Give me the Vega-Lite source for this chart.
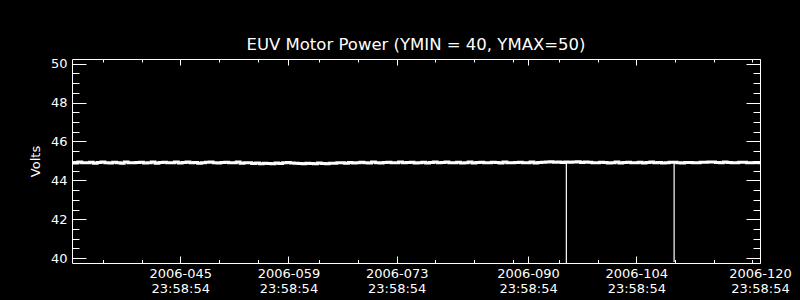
{
  "$schema": "https://vega.github.io/schema/vega-lite/v6.json",
  "width": 688,
  "height": 204,
  "autosize": {"type": "none"},
  "padding": {"left": 72, "top": 59, "right": 40, "bottom": 37},
  "background": "black",
  "title": {"text": "EUV Motor Power (YMIN = 40, YMAX=50)", "color": "white", "font": "DejaVu Sans", "fontSize": 16.5, "fontWeight": "normal", "anchor": "middle", "offset": 4},
  "config": {
    "view": {"stroke": "white", "strokeWidth": 1},
    "axis": {"grid": false, "domain": false, "tickColor": "white", "tickWidth": 1, "labelColor": "white", "labelFont": "DejaVu Sans", "labelFontSize": 13, "titleColor": "white", "titleFont": "DejaVu Sans", "titleFontSize": 13, "titleFontWeight": "normal", "labelFlush": false, "labelOverlap": false, "labelBound": false}
  },
  "data": {"values": [
    {"t":"2006-01-31T23:59:00","v":44.91,"k":"s"},
    {"t":"2006-02-01T00:00","v":44.92,"k":"s"},{"t":"2006-02-01T12:00","v":44.89,"k":"s"},
    {"t":"2006-02-02T00:00","v":44.94,"k":"s"},{"t":"2006-02-02T12:00","v":44.90,"k":"s"},
    {"t":"2006-02-03T00:00","v":44.91,"k":"s"},{"t":"2006-02-03T12:00","v":44.93,"k":"s"},
    {"t":"2006-02-04T00:00","v":44.88,"k":"s"},{"t":"2006-02-04T12:00","v":44.92,"k":"s"},
    {"t":"2006-02-05T00:00","v":44.95,"k":"s"},{"t":"2006-02-05T12:00","v":44.90,"k":"s"},
    {"t":"2006-02-06T00:00","v":44.89,"k":"s"},{"t":"2006-02-06T12:00","v":44.93,"k":"s"},
    {"t":"2006-02-07T00:00","v":44.91,"k":"s"},{"t":"2006-02-07T12:00","v":44.88,"k":"s"},
    {"t":"2006-02-08T00:00","v":44.94,"k":"s"},{"t":"2006-02-08T12:00","v":44.91,"k":"s"},
    {"t":"2006-02-09T00:00","v":44.90,"k":"s"},{"t":"2006-02-09T12:00","v":44.92,"k":"s"},
    {"t":"2006-02-10T00:00","v":44.93,"k":"s"},{"t":"2006-02-10T12:00","v":44.89,"k":"s"},
    {"t":"2006-02-11T00:00","v":44.91,"k":"s"},{"t":"2006-02-11T12:00","v":44.94,"k":"s"},
    {"t":"2006-02-12T00:00","v":44.88,"k":"s"},{"t":"2006-02-12T12:00","v":44.92,"k":"s"},
    {"t":"2006-02-13T00:00","v":44.93,"k":"s"},{"t":"2006-02-13T12:00","v":44.90,"k":"s"},
    {"t":"2006-02-14T00:00","v":44.91,"k":"s"},{"t":"2006-02-14T12:00","v":44.95,"k":"s"},
    {"t":"2006-02-15T00:00","v":44.89,"k":"s"},{"t":"2006-02-15T12:00","v":44.92,"k":"s"},
    {"t":"2006-02-16T00:00","v":44.94,"k":"s"},{"t":"2006-02-16T12:00","v":44.90,"k":"s"},
    {"t":"2006-02-17T00:00","v":44.92,"k":"s"},{"t":"2006-02-17T12:00","v":44.88,"k":"s"},
    {"t":"2006-02-18T00:00","v":44.90,"k":"s"},{"t":"2006-02-18T12:00","v":44.93,"k":"s"},
    {"t":"2006-02-19T00:00","v":44.95,"k":"s"},{"t":"2006-02-19T12:00","v":44.91,"k":"s"},
    {"t":"2006-02-20T00:00","v":44.89,"k":"s"},{"t":"2006-02-20T12:00","v":44.92,"k":"s"},
    {"t":"2006-02-21T00:00","v":44.93,"k":"s"},{"t":"2006-02-21T12:00","v":44.90,"k":"s"},
    {"t":"2006-02-22T00:00","v":44.91,"k":"s"},{"t":"2006-02-22T12:00","v":44.94,"k":"s"},
    {"t":"2006-02-23T00:00","v":44.88,"k":"s"},{"t":"2006-02-23T12:00","v":44.91,"k":"s"},
    {"t":"2006-02-24T00:00","v":44.90,"k":"s"},{"t":"2006-02-24T12:00","v":44.87,"k":"s"},
    {"t":"2006-02-25T00:00","v":44.89,"k":"s"},{"t":"2006-02-25T12:00","v":44.86,"k":"s"},
    {"t":"2006-02-26T00:00","v":44.88,"k":"s"},{"t":"2006-02-26T12:00","v":44.87,"k":"s"},
    {"t":"2006-02-27T00:00","v":44.86,"k":"s"},{"t":"2006-02-27T12:00","v":44.89,"k":"s"},
    {"t":"2006-02-28T00:00","v":44.87,"k":"s"},{"t":"2006-02-28T12:00","v":44.90,"k":"s"},
    {"t":"2006-03-01T00:00","v":44.92,"k":"s"},{"t":"2006-03-01T12:00","v":44.89,"k":"s"},
    {"t":"2006-03-02T00:00","v":44.88,"k":"s"},{"t":"2006-03-02T12:00","v":44.87,"k":"s"},
    {"t":"2006-03-03T00:00","v":44.86,"k":"s"},{"t":"2006-03-03T12:00","v":44.88,"k":"s"},
    {"t":"2006-03-04T00:00","v":44.87,"k":"s"},{"t":"2006-03-04T12:00","v":44.86,"k":"s"},
    {"t":"2006-03-05T00:00","v":44.89,"k":"s"},{"t":"2006-03-05T12:00","v":44.87,"k":"s"},
    {"t":"2006-03-06T00:00","v":44.86,"k":"s"},{"t":"2006-03-06T12:00","v":44.88,"k":"s"},
    {"t":"2006-03-07T00:00","v":44.88,"k":"s"},{"t":"2006-03-07T12:00","v":44.91,"k":"s"},
    {"t":"2006-03-08T00:00","v":44.90,"k":"s"},{"t":"2006-03-08T12:00","v":44.88,"k":"s"},
    {"t":"2006-03-09T00:00","v":44.92,"k":"s"},{"t":"2006-03-09T12:00","v":44.89,"k":"s"},
    {"t":"2006-03-10T00:00","v":44.90,"k":"s"},{"t":"2006-03-10T12:00","v":44.93,"k":"s"},
    {"t":"2006-03-11T00:00","v":44.91,"k":"s"},{"t":"2006-03-11T12:00","v":44.89,"k":"s"},
    {"t":"2006-03-12T00:00","v":44.94,"k":"s"},{"t":"2006-03-12T12:00","v":44.91,"k":"s"},
    {"t":"2006-03-13T00:00","v":44.89,"k":"s"},{"t":"2006-03-13T12:00","v":44.92,"k":"s"},
    {"t":"2006-03-14T00:00","v":44.93,"k":"s"},{"t":"2006-03-14T12:00","v":44.90,"k":"s"},
    {"t":"2006-03-15T00:00","v":44.91,"k":"s"},{"t":"2006-03-15T12:00","v":44.94,"k":"s"},
    {"t":"2006-03-16T00:00","v":44.90,"k":"s"},{"t":"2006-03-16T12:00","v":44.92,"k":"s"},
    {"t":"2006-03-17T00:00","v":44.93,"k":"s"},{"t":"2006-03-17T12:00","v":44.89,"k":"s"},
    {"t":"2006-03-18T00:00","v":44.91,"k":"s"},{"t":"2006-03-18T12:00","v":44.93,"k":"s"},
    {"t":"2006-03-19T00:00","v":44.89,"k":"s"},{"t":"2006-03-19T12:00","v":44.92,"k":"s"},
    {"t":"2006-03-20T00:00","v":44.94,"k":"s"},{"t":"2006-03-20T12:00","v":44.90,"k":"s"},
    {"t":"2006-03-21T00:00","v":44.92,"k":"s"},{"t":"2006-03-21T12:00","v":44.95,"k":"s"},
    {"t":"2006-03-22T00:00","v":44.90,"k":"s"},{"t":"2006-03-22T12:00","v":44.91,"k":"s"},
    {"t":"2006-03-23T00:00","v":44.93,"k":"s"},{"t":"2006-03-23T12:00","v":44.89,"k":"s"},
    {"t":"2006-03-24T00:00","v":44.91,"k":"s"},{"t":"2006-03-24T12:00","v":44.94,"k":"s"},
    {"t":"2006-03-25T00:00","v":44.89,"k":"s"},{"t":"2006-03-25T12:00","v":44.92,"k":"s"},
    {"t":"2006-03-26T00:00","v":44.93,"k":"s"},{"t":"2006-03-26T12:00","v":44.90,"k":"s"},
    {"t":"2006-03-27T00:00","v":44.90,"k":"s"},{"t":"2006-03-27T12:00","v":44.93,"k":"s"},
    {"t":"2006-03-28T00:00","v":44.92,"k":"s"},{"t":"2006-03-28T12:00","v":44.89,"k":"s"},
    {"t":"2006-03-29T00:00","v":44.94,"k":"s"},{"t":"2006-03-29T12:00","v":44.91,"k":"s"},
    {"t":"2006-03-30T00:00","v":44.90,"k":"s"},{"t":"2006-03-30T12:00","v":44.92,"k":"s"},
    {"t":"2006-03-31T00:00","v":44.93,"k":"s"},{"t":"2006-03-31T12:00","v":44.90,"k":"s"},
    {"t":"2006-04-01T00:00","v":44.91,"k":"s"},{"t":"2006-04-01T12:00","v":44.94,"k":"s"},
    {"t":"2006-04-02T00:00","v":44.89,"k":"s"},{"t":"2006-04-02T12:00","v":44.92,"k":"s"},
    {"t":"2006-04-03T00:00","v":44.93,"k":"s"},{"t":"2006-04-03T12:00","v":44.95,"k":"s"},
    {"t":"2006-04-04T00:00","v":44.96,"k":"s"},{"t":"2006-04-04T12:00","v":44.93,"k":"s"},
    {"t":"2006-04-05T00:00","v":44.94,"k":"s"},{"t":"2006-04-05T12:00","v":44.92,"k":"s"},
    {"t":"2006-04-06T00:00","v":44.95,"k":"s"},{"t":"2006-04-06T12:00","v":44.93,"k":"s"},
    {"t":"2006-04-07T00:00","v":44.94,"k":"s"},{"t":"2006-04-07T12:00","v":44.96,"k":"s"},
    {"t":"2006-04-08T00:00","v":44.92,"k":"s"},{"t":"2006-04-08T12:00","v":44.95,"k":"s"},
    {"t":"2006-04-09T00:00","v":44.93,"k":"s"},{"t":"2006-04-09T12:00","v":44.91,"k":"s"},
    {"t":"2006-04-10T00:00","v":44.90,"k":"s"},{"t":"2006-04-10T12:00","v":44.93,"k":"s"},
    {"t":"2006-04-11T00:00","v":44.92,"k":"s"},{"t":"2006-04-11T12:00","v":44.89,"k":"s"},
    {"t":"2006-04-12T00:00","v":44.91,"k":"s"},{"t":"2006-04-12T12:00","v":44.94,"k":"s"},
    {"t":"2006-04-13T00:00","v":44.89,"k":"s"},{"t":"2006-04-13T12:00","v":44.92,"k":"s"},
    {"t":"2006-04-14T00:00","v":44.93,"k":"s"},{"t":"2006-04-14T12:00","v":44.90,"k":"s"},
    {"t":"2006-04-15T00:00","v":44.91,"k":"s"},{"t":"2006-04-15T12:00","v":44.93,"k":"s"},
    {"t":"2006-04-16T00:00","v":44.89,"k":"s"},{"t":"2006-04-16T12:00","v":44.92,"k":"s"},
    {"t":"2006-04-17T00:00","v":44.94,"k":"s"},{"t":"2006-04-17T12:00","v":44.90,"k":"s"},
    {"t":"2006-04-18T00:00","v":44.92,"k":"s"},{"t":"2006-04-18T12:00","v":44.89,"k":"s"},
    {"t":"2006-04-19T00:00","v":44.90,"k":"s"},{"t":"2006-04-19T12:00","v":44.93,"k":"s"},
    {"t":"2006-04-20T00:00","v":44.93,"k":"s"},{"t":"2006-04-20T12:00","v":44.91,"k":"s"},
    {"t":"2006-04-21T00:00","v":44.89,"k":"s"},{"t":"2006-04-21T12:00","v":44.92,"k":"s"},
    {"t":"2006-04-22T00:00","v":44.92,"k":"s"},{"t":"2006-04-22T12:00","v":44.90,"k":"s"},
    {"t":"2006-04-23T00:00","v":44.90,"k":"s"},{"t":"2006-04-23T12:00","v":44.93,"k":"s"},
    {"t":"2006-04-24T00:00","v":44.93,"k":"s"},{"t":"2006-04-24T12:00","v":44.95,"k":"s"},
    {"t":"2006-04-25T00:00","v":44.95,"k":"s"},{"t":"2006-04-25T12:00","v":44.92,"k":"s"},
    {"t":"2006-04-26T00:00","v":44.91,"k":"s"},{"t":"2006-04-26T12:00","v":44.94,"k":"s"},
    {"t":"2006-04-27T00:00","v":44.92,"k":"s"},{"t":"2006-04-27T12:00","v":44.90,"k":"s"},
    {"t":"2006-04-28T00:00","v":44.90,"k":"s"},{"t":"2006-04-28T12:00","v":44.93,"k":"s"},
    {"t":"2006-04-29T00:00","v":44.93,"k":"s"},{"t":"2006-04-29T12:00","v":44.91,"k":"s"},
    {"t":"2006-04-30T00:00","v":44.91,"k":"s"},{"t":"2006-04-30T12:00","v":44.92,"k":"s"},
    {"t":"2006-04-30T23:58:00","v":44.90,"k":"s"},
    {"t":"2006-04-05T22:45:00","v":39.75,"v2":44.9,"k":"d"},
    {"t":"2006-04-19T21:20:00","v":39.8,"v2":44.9,"k":"d"}
  ]},
  "layer": [
    {
      "transform": [{"filter": "datum.k == 's'"}],
      "mark": {"type": "line", "color": "white", "strokeWidth": 3, "clip": true, "interpolate": "step"},
      "encoding": {
        "x": {"field": "t", "type": "temporal",
          "scale": {"domain": [{"year": 2006, "month": 1, "date": 31, "hours": 23, "minutes": 58, "seconds": 54}, {"year": 2006, "month": 4, "date": 30, "hours": 23, "minutes": 58, "seconds": 54}]},
          "axis": {"orient": "bottom", "title": null, "tickSize": -7, "labelPadding": 11, "labelLineHeight": 15,
            "values": [
              {"year": 2006, "month": 2, "date": 14, "hours": 23, "minutes": 58, "seconds": 54},
              {"year": 2006, "month": 2, "date": 28, "hours": 23, "minutes": 58, "seconds": 54},
              {"year": 2006, "month": 3, "date": 14, "hours": 23, "minutes": 58, "seconds": 54},
              {"year": 2006, "month": 3, "date": 31, "hours": 23, "minutes": 58, "seconds": 54},
              {"year": 2006, "month": 4, "date": 14, "hours": 23, "minutes": 58, "seconds": 54},
              {"year": 2006, "month": 4, "date": 30, "hours": 23, "minutes": 58, "seconds": 54}
            ],
            "labelExpr": "[timeFormat(datum.value, '%Y-%j'), timeFormat(datum.value, '%H:%M:%S')]"}},
        "y": {"field": "v", "type": "quantitative",
          "scale": {"domain": [39.75, 50.24], "nice": false, "zero": false},
          "axis": {"orient": "left", "title": "Volts", "tickSize": -14, "labelPadding": 19, "titlePadding": 8, "values": [40, 42, 44, 46, 48, 50]}}
      }
    },
    {
      "transform": [{"filter": "datum.k == 'd'"}],
      "mark": {"type": "rule", "color": "white", "strokeWidth": 1.2, "clip": true},
      "encoding": {
        "x": {"field": "t", "type": "temporal",
          "scale": {"domain": [{"year": 2006, "month": 1, "date": 31, "hours": 23, "minutes": 58, "seconds": 54}, {"year": 2006, "month": 4, "date": 30, "hours": 23, "minutes": 58, "seconds": 54}]},
          "axis": {"orient": "bottom", "title": null, "tickSize": -3.5, "labels": false,
            "values": [
              {"year": 2006, "month": 2, "date": 4, "hours": 23, "minutes": 58, "seconds": 54},
              {"year": 2006, "month": 2, "date": 9, "hours": 23, "minutes": 58, "seconds": 54},
              {"year": 2006, "month": 2, "date": 19, "hours": 23, "minutes": 58, "seconds": 54},
              {"year": 2006, "month": 2, "date": 24, "hours": 23, "minutes": 58, "seconds": 54},
              {"year": 2006, "month": 3, "date": 4, "hours": 23, "minutes": 58, "seconds": 54},
              {"year": 2006, "month": 3, "date": 9, "hours": 23, "minutes": 58, "seconds": 54},
              {"year": 2006, "month": 3, "date": 19, "hours": 23, "minutes": 58, "seconds": 54},
              {"year": 2006, "month": 3, "date": 24, "hours": 23, "minutes": 58, "seconds": 54},
              {"year": 2006, "month": 3, "date": 29, "hours": 23, "minutes": 58, "seconds": 54},
              {"year": 2006, "month": 4, "date": 4, "hours": 23, "minutes": 58, "seconds": 54},
              {"year": 2006, "month": 4, "date": 9, "hours": 23, "minutes": 58, "seconds": 54},
              {"year": 2006, "month": 4, "date": 19, "hours": 23, "minutes": 58, "seconds": 54},
              {"year": 2006, "month": 4, "date": 24, "hours": 23, "minutes": 58, "seconds": 54},
              {"year": 2006, "month": 4, "date": 29, "hours": 23, "minutes": 58, "seconds": 54}
            ]}},
        "y": {"field": "v", "type": "quantitative",
          "scale": {"domain": [39.75, 50.24], "nice": false, "zero": false},
          "axis": {"orient": "left", "title": null, "tickSize": -7, "labels": false, "values": [40.5, 41, 41.5, 42.5, 43, 43.5, 44.5, 45, 45.5, 46.5, 47, 47.5, 48.5, 49, 49.5]}},
        "y2": {"field": "v2"}
      }
    },
    {
      "transform": [{"filter": "datum.k == 'd'"}],
      "mark": {"type": "point", "opacity": 0},
      "encoding": {
        "x": {"field": "t", "type": "temporal",
          "scale": {"domain": [{"year": 2006, "month": 1, "date": 31, "hours": 23, "minutes": 58, "seconds": 54}, {"year": 2006, "month": 4, "date": 30, "hours": 23, "minutes": 58, "seconds": 54}]},
          "axis": {"orient": "top", "title": null, "tickSize": -6, "labels": false,
            "values": [
              {"year": 2006, "month": 2, "date": 14, "hours": 23, "minutes": 58, "seconds": 54},
              {"year": 2006, "month": 2, "date": 28, "hours": 23, "minutes": 58, "seconds": 54},
              {"year": 2006, "month": 3, "date": 14, "hours": 23, "minutes": 58, "seconds": 54},
              {"year": 2006, "month": 3, "date": 31, "hours": 23, "minutes": 58, "seconds": 54},
              {"year": 2006, "month": 4, "date": 14, "hours": 23, "minutes": 58, "seconds": 54},
              {"year": 2006, "month": 4, "date": 30, "hours": 23, "minutes": 58, "seconds": 54}
            ]}},
        "y": {"field": "v", "type": "quantitative",
          "scale": {"domain": [39.75, 50.24], "nice": false, "zero": false},
          "axis": {"orient": "right", "title": null, "tickSize": -14, "labels": false, "values": [40, 42, 44, 46, 48, 50]}}
      }
    },
    {
      "transform": [{"filter": "datum.k == 'd'"}],
      "mark": {"type": "point", "opacity": 0},
      "encoding": {
        "x": {"field": "t", "type": "temporal",
          "scale": {"domain": [{"year": 2006, "month": 1, "date": 31, "hours": 23, "minutes": 58, "seconds": 54}, {"year": 2006, "month": 4, "date": 30, "hours": 23, "minutes": 58, "seconds": 54}]},
          "axis": {"orient": "top", "title": null, "tickSize": -3, "labels": false,
            "values": [
              {"year": 2006, "month": 2, "date": 4, "hours": 23, "minutes": 58, "seconds": 54},
              {"year": 2006, "month": 2, "date": 9, "hours": 23, "minutes": 58, "seconds": 54},
              {"year": 2006, "month": 2, "date": 19, "hours": 23, "minutes": 58, "seconds": 54},
              {"year": 2006, "month": 2, "date": 24, "hours": 23, "minutes": 58, "seconds": 54},
              {"year": 2006, "month": 3, "date": 4, "hours": 23, "minutes": 58, "seconds": 54},
              {"year": 2006, "month": 3, "date": 9, "hours": 23, "minutes": 58, "seconds": 54},
              {"year": 2006, "month": 3, "date": 19, "hours": 23, "minutes": 58, "seconds": 54},
              {"year": 2006, "month": 3, "date": 24, "hours": 23, "minutes": 58, "seconds": 54},
              {"year": 2006, "month": 3, "date": 29, "hours": 23, "minutes": 58, "seconds": 54},
              {"year": 2006, "month": 4, "date": 4, "hours": 23, "minutes": 58, "seconds": 54},
              {"year": 2006, "month": 4, "date": 9, "hours": 23, "minutes": 58, "seconds": 54},
              {"year": 2006, "month": 4, "date": 19, "hours": 23, "minutes": 58, "seconds": 54},
              {"year": 2006, "month": 4, "date": 24, "hours": 23, "minutes": 58, "seconds": 54},
              {"year": 2006, "month": 4, "date": 29, "hours": 23, "minutes": 58, "seconds": 54}
            ]}},
        "y": {"field": "v", "type": "quantitative",
          "scale": {"domain": [39.75, 50.24], "nice": false, "zero": false},
          "axis": {"orient": "right", "title": null, "tickSize": -7, "labels": false, "values": [40.5, 41, 41.5, 42.5, 43, 43.5, 44.5, 45, 45.5, 46.5, 47, 47.5, 48.5, 49, 49.5]}}
      }
    }
  ],
  "resolve": {"axis": {"x": "independent", "y": "independent"}}
}
